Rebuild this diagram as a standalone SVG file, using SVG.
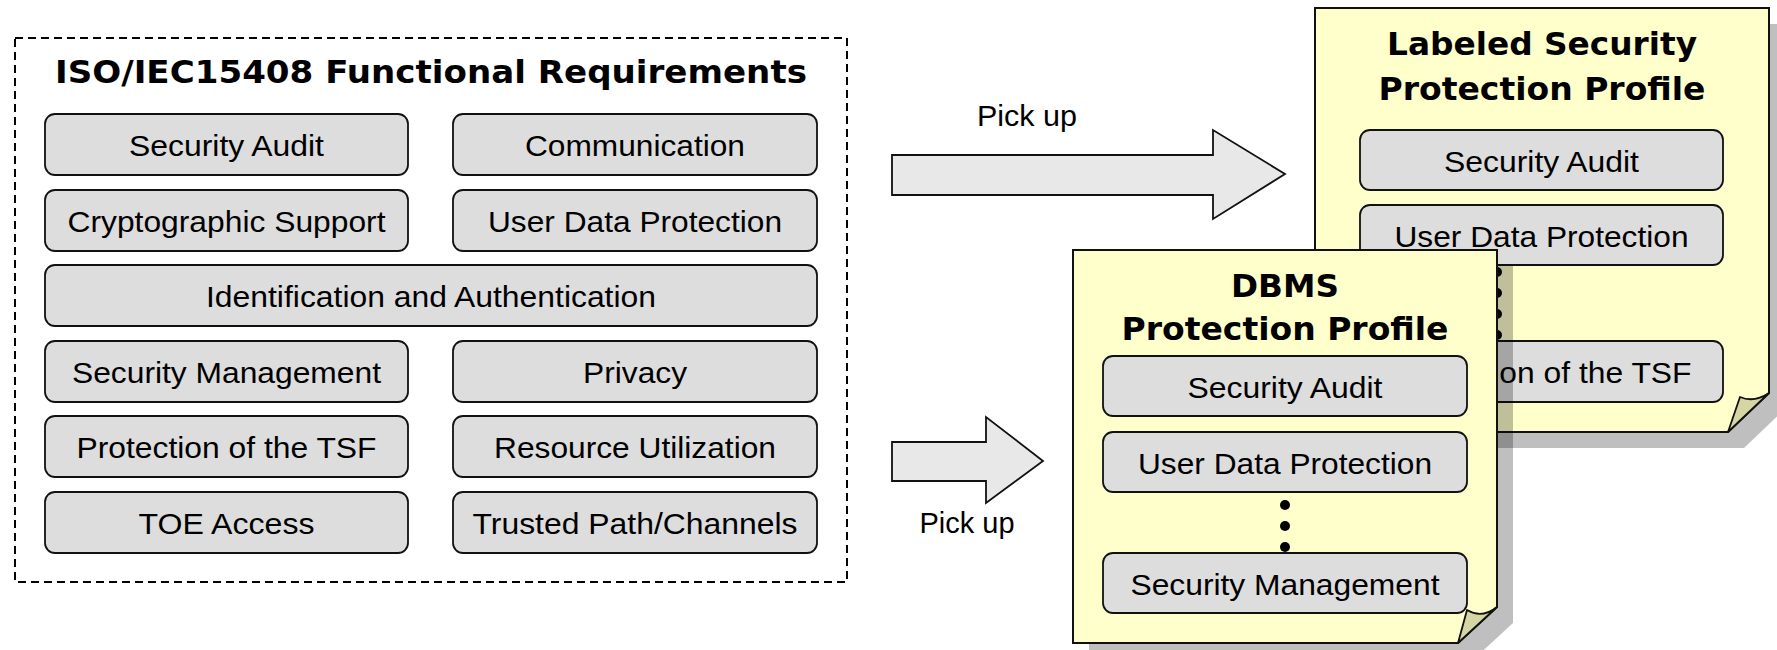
<svg xmlns="http://www.w3.org/2000/svg" width="1777" height="650" viewBox="0 0 1777 650">
  <style>
    .frame { fill: none; stroke: #000; stroke-width: 2; stroke-dasharray: 8 5; }
    .item { fill: #dddddd; stroke: #111; stroke-width: 1.8; }
    .label { font-family: "Liberation Sans", Arial, sans-serif; font-size: 29px; fill: #000; text-anchor: middle; }
    .title { font-family: "DejaVu Sans", Verdana, sans-serif; font-weight: bold; font-size: 31.5px; fill: #000; text-anchor: middle; }
    .doc { fill: #ffffcc; stroke: #111; stroke-width: 2; stroke-linejoin: miter; }
    .flap { fill: #d6d6a4; stroke: #111; stroke-width: 1.8; stroke-linejoin: round; }
    .shadow { fill: #000; opacity: 0.25; }
    .arrow { fill: #e8e8e8; stroke: #111; stroke-width: 1.8; stroke-linejoin: miter; }
    .dot { fill: #000; }
  </style>

  <!-- Catalogue of functional requirement classes -->
  <g id="functional-requirements">
    <rect class="frame" x="15" y="38" width="832" height="544"/>
    <text class="title" x="431" y="83" textLength="752" lengthAdjust="spacingAndGlyphs">ISO/IEC15408 Functional Requirements</text>

    <g id="fr-security-audit">
      <rect class="item" x="45" y="114" width="363" height="61" rx="10"/>
      <text class="label" x="226.5" y="156" textLength="195" lengthAdjust="spacingAndGlyphs">Security Audit</text>
    </g>
    <g id="fr-communication">
      <rect class="item" x="453" y="114" width="364" height="61" rx="10"/>
      <text class="label" x="635" y="156" textLength="220" lengthAdjust="spacingAndGlyphs">Communication</text>
    </g>
    <g id="fr-cryptographic-support">
      <rect class="item" x="45" y="190" width="363" height="61" rx="10"/>
      <text class="label" x="226.5" y="232" textLength="318" lengthAdjust="spacingAndGlyphs">Cryptographic Support</text>
    </g>
    <g id="fr-user-data-protection">
      <rect class="item" x="453" y="190" width="364" height="61" rx="10"/>
      <text class="label" x="635" y="232" textLength="294" lengthAdjust="spacingAndGlyphs">User Data Protection</text>
    </g>
    <g id="fr-identification-authentication">
      <rect class="item" x="45" y="265" width="772" height="61" rx="10"/>
      <text class="label" x="431" y="307" textLength="450" lengthAdjust="spacingAndGlyphs">Identification and Authentication</text>
    </g>
    <g id="fr-security-management">
      <rect class="item" x="45" y="341" width="363" height="61" rx="10"/>
      <text class="label" x="226.5" y="383" textLength="309" lengthAdjust="spacingAndGlyphs">Security Management</text>
    </g>
    <g id="fr-privacy">
      <rect class="item" x="453" y="341" width="364" height="61" rx="10"/>
      <text class="label" x="635" y="383" textLength="104" lengthAdjust="spacingAndGlyphs">Privacy</text>
    </g>
    <g id="fr-protection-tsf">
      <rect class="item" x="45" y="416" width="363" height="61" rx="10"/>
      <text class="label" x="226.5" y="458" textLength="300" lengthAdjust="spacingAndGlyphs">Protection of the TSF</text>
    </g>
    <g id="fr-resource-utilization">
      <rect class="item" x="453" y="416" width="364" height="61" rx="10"/>
      <text class="label" x="635" y="458" textLength="282" lengthAdjust="spacingAndGlyphs">Resource Utilization</text>
    </g>
    <g id="fr-toe-access">
      <rect class="item" x="45" y="492" width="363" height="61" rx="10"/>
      <text class="label" x="226.5" y="534" textLength="176" lengthAdjust="spacingAndGlyphs">TOE Access</text>
    </g>
    <g id="fr-trusted-path">
      <rect class="item" x="453" y="492" width="364" height="61" rx="10"/>
      <text class="label" x="635" y="534" textLength="325" lengthAdjust="spacingAndGlyphs">Trusted Path/Channels</text>
    </g>
  </g>

  <!-- "Pick up" arrows -->
  <g id="connectors">
    <polygon class="arrow" points="892,155 1213,155 1213,130 1285,174 1213,219 1213,195 892,195"/>
    <text class="label" x="1027" y="126" textLength="100" lengthAdjust="spacingAndGlyphs">Pick up</text>
    <polygon class="arrow" points="892,442 986,442 986,417 1043,461 986,503 986,481 892,481"/>
    <text class="label" x="967" y="533" textLength="95" lengthAdjust="spacingAndGlyphs">Pick up</text>
  </g>

  <!-- Labeled Security Protection Profile (back sheet) -->
  <g id="labeled-security-pp">
    <path class="shadow" d="M1331,24 H1785 V409 L1744,448 H1331 Z"/>
    <path class="doc" d="M1315,8 H1769 V393 L1728,432 H1315 Z"/>
    <path class="flap" d="M1728,432 L1740,397 Q1754,403 1769,393 Z"/>
    <text class="title" x="1542" y="55" textLength="310" lengthAdjust="spacingAndGlyphs">Labeled Security</text>
    <text class="title" x="1542" y="100" textLength="327" lengthAdjust="spacingAndGlyphs">Protection Profile</text>
    <rect class="item" x="1360" y="130" width="363" height="60" rx="10"/>
    <text class="label" x="1541.5" y="172" textLength="195" lengthAdjust="spacingAndGlyphs">Security Audit</text>
    <rect class="item" x="1360" y="205" width="363" height="60" rx="10"/>
    <text class="label" x="1541.5" y="247" textLength="294" lengthAdjust="spacingAndGlyphs">User Data Protection</text>
    <circle class="dot" cx="1497" cy="272" r="5"/>
    <circle class="dot" cx="1497" cy="293" r="5"/>
    <circle class="dot" cx="1497" cy="314" r="5"/>
    <circle class="dot" cx="1497" cy="335" r="5"/>
    <rect class="item" x="1360" y="341" width="363" height="61" rx="10"/>
    <text class="label" x="1541.5" y="383" textLength="300" lengthAdjust="spacingAndGlyphs">Protection of the TSF</text>
  </g>

  <!-- DBMS Protection Profile (front sheet) -->
  <g id="dbms-pp">
    <path class="shadow" d="M1089,266 H1513 V623 L1474,659 H1089 Z"/>
    <path class="doc" d="M1073,250 H1497 V607 L1458,643 H1073 Z"/>
    <path class="flap" d="M1458,643 L1467,610 Q1482,619 1497,607 Z"/>
    <text class="title" x="1285" y="297" textLength="108" lengthAdjust="spacingAndGlyphs">DBMS</text>
    <text class="title" x="1285" y="340" textLength="327" lengthAdjust="spacingAndGlyphs">Protection Profile</text>
    <rect class="item" x="1103" y="356" width="364" height="60" rx="10"/>
    <text class="label" x="1285" y="398" textLength="195" lengthAdjust="spacingAndGlyphs">Security Audit</text>
    <rect class="item" x="1103" y="432" width="364" height="60" rx="10"/>
    <text class="label" x="1285" y="474" textLength="294" lengthAdjust="spacingAndGlyphs">User Data Protection</text>
    <circle class="dot" cx="1285" cy="505" r="5"/>
    <circle class="dot" cx="1285" cy="526" r="5"/>
    <circle class="dot" cx="1285" cy="547" r="5"/>
    <rect class="item" x="1103" y="553" width="364" height="60" rx="10"/>
    <text class="label" x="1285" y="595" textLength="309" lengthAdjust="spacingAndGlyphs">Security Management</text>
  </g>
</svg>
